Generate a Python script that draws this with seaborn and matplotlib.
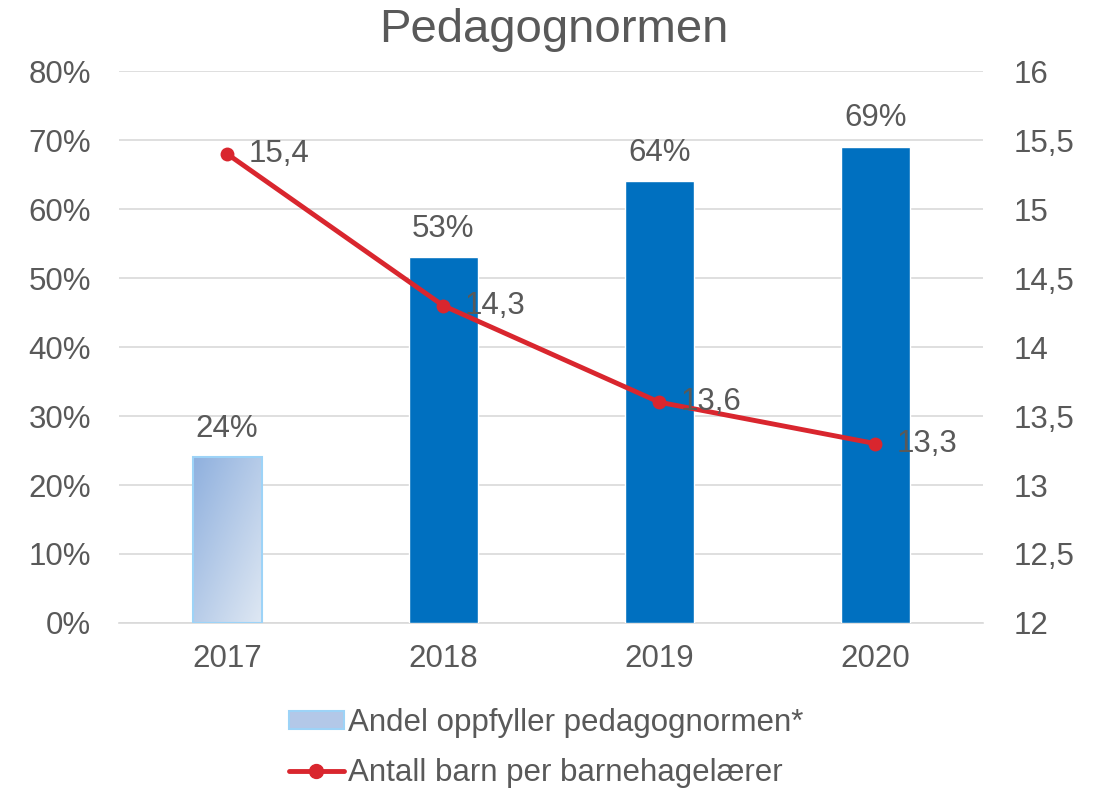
import matplotlib
matplotlib.use("Agg")
import matplotlib.pyplot as plt
import seaborn as sns
import numpy as np
import pandas as pd
from matplotlib.lines import Line2D
from matplotlib.patches import Patch

years = ["2017", "2018", "2019", "2020"]
share = [24, 53, 64, 69]
children = [15.4, 14.3, 13.6, 13.3]
left_ticks = [0, 10, 20, 30, 40, 50, 60, 70, 80]
right_ticks = [12, 12.5, 13, 13.5, 14, 14.5, 15, 15.5, 16]
title = "Pedagognormen"
bar_label = "Andel oppfyller pedagognormen*"
line_label = "Antall barn per barnehagelærer"

sns.set_theme(style="white")
plt.rcParams['font.family'] = ['Liberation Sans', 'DejaVu Sans']
txt = "#595959"
blue = "#0070C0"
red = "#D9262E"
grid = "#D9D9D9"
fs = 22.5

fig = plt.figure(figsize=(10.97, 7.91), dpi=100)
ax = fig.add_axes([0.1085, 0.2124, 0.7880, 0.6978])

df = pd.DataFrame({"year": years, "share": share})
sns.barplot(data=df, x="year", y="share", ax=ax, color=blue, width=0.32,
            saturation=1, zorder=3)
ax.set_xlim(-0.5, 3.5)
ax.set_ylim(0, 80)

# gradient first bar
p0 = ax.patches[0]
p0.set_facecolor("none")
p0.set_edgecolor("#9DD3F7")
p0.set_linewidth(1.5)
x0, y0 = p0.get_x(), p0.get_y()
w, h = p0.get_width(), p0.get_height()
nx, ny = 64, 64
gx, gy = np.meshgrid(np.linspace(0, 1, nx), np.linspace(0, 1, ny))
t = np.clip((gx + (1 - gy)) / 2, 0, 1)
c1 = np.array([0x8F, 0xB0, 0xDE]) / 255
c2 = np.array([0xDF, 0xE8, 0xF3]) / 255
img = c1[None, None, :] * (1 - t[..., None]) + c2[None, None, :] * t[..., None]
im = ax.imshow(img, extent=[x0, x0 + w, y0 + h, y0], origin="upper",
               aspect="auto", zorder=2.5)
im.set_clip_path(p0)
ax.set_xlim(-0.5, 3.5)
ax.set_ylim(0, 80)

for i, v in enumerate(share):
    ax.text(i, v + 2.0, f"{v}%", ha="center", va="bottom", fontsize=fs, color=txt, zorder=5)

ax.set_yticks(left_ticks)
ax.set_yticklabels([f"{v}%" for v in left_ticks])
ax.yaxis.grid(True, color=grid, linewidth=1.2, zorder=0)
ax.set_axisbelow(True)
for s in ["top", "right", "left"]:
    ax.spines[s].set_visible(False)
ax.spines["bottom"].set_color(grid)
ax.spines["bottom"].set_linewidth(1.2)
ax.tick_params(axis="both", length=0, labelsize=fs, colors=txt)
ax.tick_params(axis="y", pad=20)
ax.tick_params(axis="x", pad=15)
ax.set_xlabel("")
ax.set_ylabel("")

ax2 = ax.twinx()
ldf = pd.DataFrame({"x": np.arange(len(years)), "v": children})
sns.lineplot(data=ldf, x="x", y="v", ax=ax2, color=red, linewidth=3.5,
             marker="o", markersize=10, markeredgewidth=0, zorder=4)
ax2.set_ylim(12, 16)
ax2.set_xlim(-0.5, 3.5)
ax2.set_yticks(right_ticks)
ax2.set_yticklabels([f"{v:g}".replace(".", ",") for v in right_ticks])
for s in ax2.spines.values():
    s.set_visible(False)
ax2.tick_params(axis="y", length=0, labelsize=fs, colors=txt, pad=22)
ax2.set_xlabel("")
ax2.set_ylabel("")
for i, v in enumerate(children):
    ax2.text(i + 0.1, v, f"{v:.1f}".replace(".", ","), ha="left", va="center",
             fontsize=fs, color=txt, zorder=5)

fig.text(0.505, 0.962, title, ha="center", va="center", fontsize=34, color=txt)

handles = [Patch(facecolor="#B3C8E8", edgecolor="#9DD3F7", linewidth=1.5),
           Line2D([0], [0], color=red, linewidth=3.5, marker="o", markersize=10)]
leg = fig.legend(handles, [bar_label, line_label], loc="center",
                 bbox_to_anchor=(0.498, 0.054), ncol=1, frameon=False,
                 fontsize=fs, labelcolor=txt, handlelength=1.75, handleheight=0.55,
                 handletextpad=0.15, labelspacing=0.65)

fig.savefig("out.png", dpi=100)
